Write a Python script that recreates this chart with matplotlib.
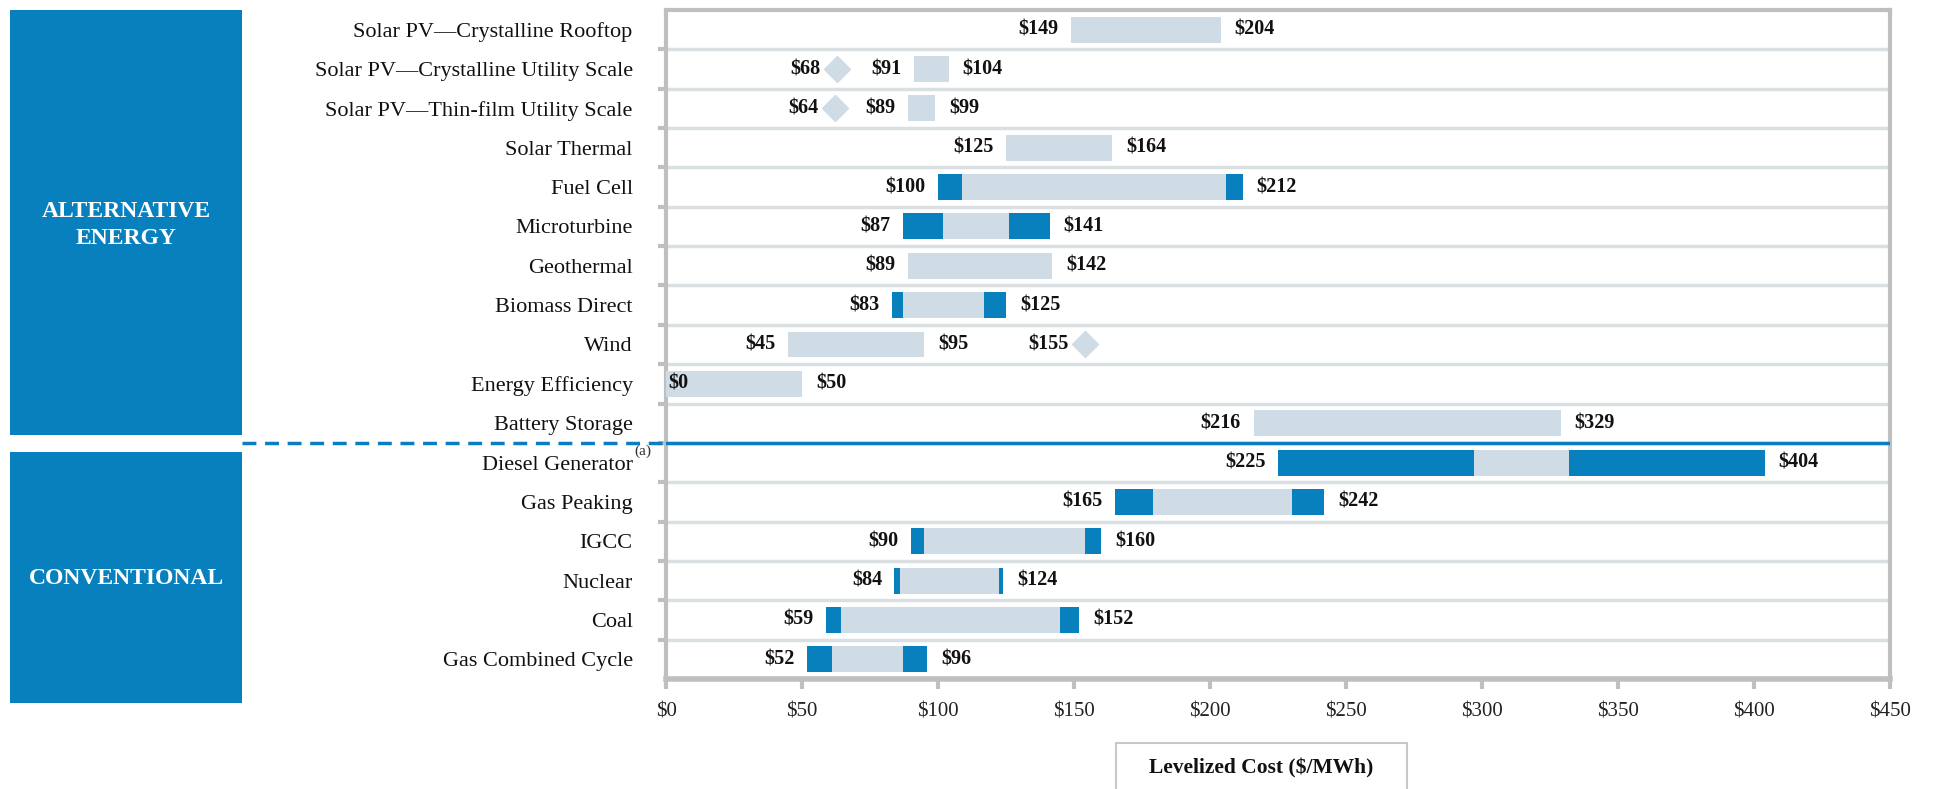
import matplotlib.pyplot as plt
from matplotlib.patches import Rectangle
from matplotlib.lines import Line2D

plt.rcParams['font.family'] = ['Liberation Serif', 'DejaVu Serif']

# rows, top to bottom
categories = ["Solar PV\u2014Crystalline Rooftop", "Solar PV\u2014Crystalline Utility Scale",
              "Solar PV\u2014Thin-film Utility Scale", "Solar Thermal", "Fuel Cell", "Microturbine",
              "Geothermal", "Biomass Direct", "Wind", "Energy Efficiency", "Battery Storage",
              "Diesel Generator", "Gas Peaking", "IGCC", "Nuclear", "Coal", "Gas Combined Cycle"]
low = [149, 91, 89, 125, 100, 87, 89, 83, 45, 0, 216, 225, 165, 90, 84, 59, 52]
high = [204, 104, 99, 164, 212, 141, 142, 125, 95, 50, 329, 404, 242, 160, 124, 152, 96]
# light segment runs from mid_lo to mid_hi, dark segments outside it
mid_lo = [149, 91, 89, 125, 109, 102, 89, 87, 45, 0, 216, 297, 179, 95, 86, 64.5, 61]
mid_hi = [204, 104, 99, 164, 206, 126, 142, 117, 95, 50, 329, 332, 230, 154, 122.5, 145, 87]

# diamond markers
diamond_rows = [1, 2, 8]
diamond_pos = [63, 62, 154]
diamond_vals = [68, 64, 155]

xticks = [0, 50, 100, 150, 200, 250, 300, 350, 400, 450]

dark = '#0780BD'
light = '#CFDCE6'
gray = '#BFBFBF'
gridc = '#DADFE2'


def fx(px):
    return px / 1935


def fy(py):
    return 1 - py / 789


fig = plt.figure(figsize=(19.35, 7.89), dpi=100)
ax = fig.add_axes([fx(666), fy(679), fx(1890) - fx(666), fy(10) - fy(679)])

rows = list(range(len(categories)))
bh = 0.66
ax.barh(rows, [m - l for l, m in zip(low, mid_lo)], left=low, height=bh, color=dark, lw=0, zorder=3)
ax.barh(rows, [h - m for m, h in zip(mid_lo, mid_hi)], left=mid_lo, height=bh, color=light, lw=0, zorder=3)
ax.barh(rows, [h - m for m, h in zip(mid_hi, high)], left=mid_hi, height=bh, color=dark, lw=0, zorder=3)
ax.plot(diamond_pos, diamond_rows, 'D', ms=13, color=light, mec=light, zorder=3)

lab = dict(fontsize=14.5, fontweight='bold', va='center', color='#111111')
for r in rows:
    if low[r] == 0:
        ax.annotate('$%d' % low[r], (low[r], r), xytext=(2, 0), textcoords='offset points', ha='left', zorder=5, **lab)
    else:
        ax.annotate('$%d' % low[r], (low[r], r), xytext=(-9, 0), textcoords='offset points', ha='right', **lab)
    ax.annotate('$%d' % high[r], (high[r], r), xytext=(10, 0), textcoords='offset points', ha='left', **lab)
for r, p, v in zip(diamond_rows, diamond_pos, diamond_vals):
    ax.annotate('$%d' % v, (p, r), xytext=(-12, 0), textcoords='offset points', ha='right', **lab)

ax.set_xlim(0, 450)
ax.set_ylim(len(categories) - 0.5, -0.5)
ax.set_yticks(rows)
ax.set_yticklabels(categories, fontsize=16, color='#111111')
ax.set_yticks([i + 0.5 for i in range(len(categories) - 1)], minor=True)
ax.tick_params(axis='y', which='major', length=0, pad=24)
ax.tick_params(axis='y', which='minor', length=6, width=3, color=gray, direction='out')
ax.grid(axis='y', which='minor', color=gridc, lw=2.5)
ax.set_axisbelow(True)

ax.set_xticks(xticks)
ax.set_xticklabels(['$%d' % t for t in xticks], fontsize=15, color='#222222')
ax.tick_params(axis='x', length=7, width=3, color=gray, direction='out', pad=10)

for s in ['left', 'top', 'right']:
    ax.spines[s].set_color(gray)
    ax.spines[s].set_linewidth(3)
ax.spines['bottom'].set_color(gray)
ax.spines['bottom'].set_linewidth(4)

# split between the two groups
ax.axhline(10.5, color='#0A7EC2', lw=2.5, zorder=4)
fig.add_artist(Line2D([fx(242), fx(666)], [fy(443), fy(443)], color='#0A7EC2', lw=2.5,
                      dashes=(4, 2.5), transform=fig.transFigure))

ax.annotate('(a)', (0, 11), xycoords=('axes fraction', 'data'), xytext=(-23, 8),
            textcoords='offset points', ha='left', va='center', fontsize=11, color='#333333')

# group boxes on the left
fig.add_artist(Rectangle((fx(10), fy(435)), fx(242) - fx(10), fy(10) - fy(435),
                         transform=fig.transFigure, color=dark, lw=0))
fig.add_artist(Rectangle((fx(10), fy(703)), fx(242) - fx(10), fy(452) - fy(703),
                         transform=fig.transFigure, color=dark, lw=0))
fig.text(fx(126), fy(225), 'ALTERNATIVE\nENERGY', ha='center', va='center', color='white',
         fontsize=17, fontweight='bold', linespacing=1.4)
fig.text(fx(126), fy(579), 'CONVENTIONAL', ha='center', va='center', color='white',
         fontsize=17, fontweight='bold')

# axis title box
fig.add_artist(Rectangle((fx(1116), fy(800)), fx(1407) - fx(1116), fy(743) - fy(800),
                         transform=fig.transFigure, fill=False, edgecolor='#C8C8C8', lw=1.5))
fig.text(fx(1261), fy(768), 'Levelized Cost ($/MWh)', ha='center', va='center',
         fontsize=15.5, fontweight='bold', color='#111111')

fig.savefig('out.png', dpi=100)
